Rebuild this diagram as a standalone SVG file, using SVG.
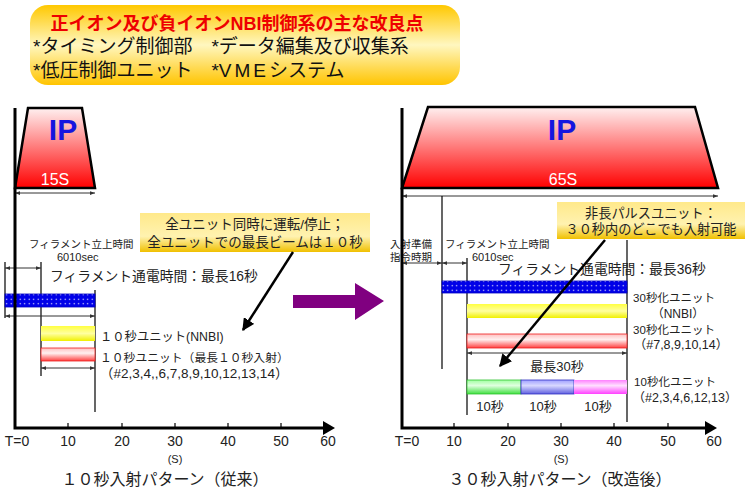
<svg xmlns="http://www.w3.org/2000/svg" width="750" height="492" viewBox="0 0 750 492">
<defs>
<style>
.t{font-family:"Liberation Sans","Noto Sans CJK JP",sans-serif;fill:#222}
.ax{stroke:#000;stroke-width:3;fill:none}
.ln{stroke:#000;stroke-width:1.2;fill:none}
.dim{stroke:#333;stroke-width:1;fill:none;marker-start:url(#da);marker-end:url(#da)}
.tick{stroke:#000;stroke-width:1.2}
.ctr{text-anchor:middle}
</style>
<marker id="da" viewBox="0 0 8 8" refX="8" refY="4" markerWidth="5" markerHeight="5" orient="auto-start-reverse"><path d="M0,1 L8,4 L0,7 z" fill="#333"/></marker>
<marker id="ah" viewBox="0 0 10 10" refX="9" refY="5" markerWidth="5" markerHeight="5" orient="auto"><path d="M0,0 L10,5 L0,10 z" fill="#000"/></marker>
<linearGradient id="gTitle" x1="0" y1="0" x2="0" y2="1"><stop offset="0" stop-color="#ffc800"/><stop offset="0.5" stop-color="#fff7c0"/><stop offset="1" stop-color="#ffc400"/></linearGradient>
<linearGradient id="gCall" x1="0" y1="0" x2="0" y2="1"><stop offset="0" stop-color="#ffe98a"/><stop offset="0.6" stop-color="#fff2b0"/><stop offset="1" stop-color="#f0c000"/></linearGradient>
<linearGradient id="gIP" x1="0" y1="0" x2="0" y2="1"><stop offset="0" stop-color="#fff0f0"/><stop offset="1" stop-color="#ff0000"/></linearGradient>
<linearGradient id="gY" x1="0" y1="0" x2="0" y2="1"><stop offset="0" stop-color="#ffff40"/><stop offset="0.5" stop-color="#ffffa0"/><stop offset="1" stop-color="#f0f000"/></linearGradient>
<linearGradient id="gR" x1="0" y1="0" x2="0" y2="1"><stop offset="0" stop-color="#ffc0c0"/><stop offset="0.4" stop-color="#fff0f0"/><stop offset="1" stop-color="#ff4040"/></linearGradient>
<linearGradient id="gG" x1="0" y1="0" x2="0" y2="1"><stop offset="0" stop-color="#a0ffa0"/><stop offset="0.4" stop-color="#e0ffe0"/><stop offset="1" stop-color="#40e040"/></linearGradient>
<linearGradient id="gB" x1="0" y1="0" x2="0" y2="1"><stop offset="0" stop-color="#a0a0ff"/><stop offset="0.4" stop-color="#d8d8ff"/><stop offset="1" stop-color="#6060e0"/></linearGradient>
<linearGradient id="gM" x1="0" y1="0" x2="0" y2="1"><stop offset="0" stop-color="#ff80ff"/><stop offset="0.4" stop-color="#ffe0ff"/><stop offset="1" stop-color="#ff40ff"/></linearGradient>
<pattern id="dots" width="4.5" height="4.5" patternUnits="userSpaceOnUse"><rect width="4.5" height="4.5" fill="#0000e8"/><circle cx="2.2" cy="2.2" r="0.7" fill="#fff"/></pattern>
</defs>
<rect width="750" height="492" fill="#fff"/>

<g id="title">
<rect x="30" y="5" width="430" height="80" rx="18" fill="url(#gTitle)"/>
<text x="237" y="30" class="ctr" style="font-family:'Liberation Sans','Noto Sans CJK JP',sans-serif;font-size:18px;font-weight:bold;fill:#ee0000">正イオン及び負イオンNBI制御系の主な改良点</text>
<text x="33" y="53" class="t" style="font-size:19px;fill:#111">*タイミング制御部　*データ編集及び収集系</text>
<text x="33" y="77" class="t" style="font-size:19px;fill:#111">*低圧制御ユニット　*V<tspan dx="3">M</tspan><tspan dx="3">E</tspan><tspan dx="3">システム</tspan></text>
</g>

<g id="left-chart">
<path d="M28,108 L82,108 L95,188 L15,188 Z" fill="url(#gIP)" stroke="#000" stroke-width="2.5"/>
<text x="63" y="140" class="ctr" style="font-family:'Liberation Sans',sans-serif;font-size:30px;font-weight:bold;fill:#1515e0">IP</text>
<text x="55" y="185" class="ctr" style="font-family:'Liberation Sans',sans-serif;font-size:16px;fill:#fff">15S</text>
<line x1="15" y1="193" x2="95" y2="193" class="dim"/>
<line x1="5" y1="262" x2="5" y2="318" class="ln"/>
<line x1="41" y1="262" x2="41" y2="376" class="ln"/>
<line x1="95" y1="290" x2="95" y2="412" class="ln"/>
<line x1="5" y1="268" x2="41" y2="268" class="dim"/>
<rect x="5" y="294" width="90" height="13" fill="url(#dots)" stroke="#0000c0" stroke-width="0.8"/>
<line x1="5" y1="316" x2="95" y2="316" class="dim"/>
<rect x="41" y="326" width="54" height="15" fill="url(#gY)"/>
<rect x="41" y="348" width="54" height="13" fill="url(#gR)" stroke="#ee2020" stroke-width="0.8"/>
<line x1="41" y1="368" x2="95" y2="368" class="dim"/>
<text x="29" y="248" class="t" style="font-size:10.5px">フィラメント立上時間</text>
<text x="57" y="261" class="t" style="font-size:11px">6010sec</text>
<text x="50" y="281" class="t" style="font-size:13.8px">フィラメント通電時間：最長16秒</text>
<text x="100" y="341" class="t" style="font-size:12.3px">１０秒ユニット(NNBI)</text>
<text x="100" y="362" class="t" style="font-size:11.8px">１０秒ユニット（最長１０秒入射）</text>
<text x="100" y="378" class="t" style="font-size:13.5px">（#2,3,4,,6,7,8,9,10,12,13,14）</text>
</g>

<g id="left-callout">
<rect x="140" y="213" width="230" height="39" fill="url(#gCall)"/>
<text x="255" y="229" class="t ctr" style="font-size:13.5px">全ユニット同時に運転/停止；</text>
<text x="255" y="247" class="t ctr" style="font-size:13.5px">全ユニットでの最長ビームは１０秒</text>
</g>

<g id="left-axes">
<polyline points="15,108 15,428 325,428" class="ax"/>
<path d="M323,421 L335,428 L323,435 Z" fill="#000"/>
<line x1="68" y1="423" x2="68" y2="428" class="tick"/>
<line x1="122" y1="423" x2="122" y2="428" class="tick"/>
<line x1="175" y1="423" x2="175" y2="428" class="tick"/>
<line x1="228" y1="423" x2="228" y2="428" class="tick"/>
<line x1="281" y1="423" x2="281" y2="428" class="tick"/>
<g style="font-family:'Liberation Sans',sans-serif;font-size:14px;fill:#222" text-anchor="middle">
<text x="17" y="446">T=0</text><text x="68" y="446">10</text><text x="122" y="446">20</text><text x="175" y="446">30</text><text x="228" y="446">40</text><text x="281" y="446">50</text><text x="328" y="446">60</text>
<text x="175" y="463" style="font-size:11px">(S)</text>
</g>
<text x="165" y="485" class="t ctr" style="font-size:16px">１０秒入射パターン（従来）</text>
</g>

<g id="right-chart">
<path d="M428,107 L695,107 L718,188 L402,188 Z" fill="url(#gIP)" stroke="#000" stroke-width="2.5"/>
<text x="562" y="140" class="ctr" style="font-family:'Liberation Sans',sans-serif;font-size:30px;font-weight:bold;fill:#1515e0">IP</text>
<text x="563" y="185" class="ctr" style="font-family:'Liberation Sans',sans-serif;font-size:16px;fill:#fff">65S</text>
<line x1="402" y1="196" x2="718" y2="196" class="dim"/>
<line x1="442" y1="196" x2="442" y2="369" class="ln"/>
<line x1="467" y1="258" x2="467" y2="415" class="ln"/>
<line x1="627" y1="240" x2="627" y2="422" class="ln"/>
<line x1="402" y1="263" x2="442" y2="263" class="dim"/>
<line x1="442" y1="263" x2="467" y2="263" class="dim"/>
<rect x="442" y="281" width="185" height="12" fill="url(#dots)" stroke="#0000c0" stroke-width="0.8"/>
<rect x="467" y="304" width="160" height="14" fill="url(#gY)"/>
<rect x="467" y="334" width="160" height="14" fill="url(#gR)" stroke="#ee2020" stroke-width="0.8"/>
<line x1="467" y1="353" x2="627" y2="353" class="dim"/>
<text x="557" y="371" class="t ctr" style="font-size:13px">最長30秒</text>
<rect x="467" y="380" width="54" height="14" fill="url(#gG)" stroke="#30c030" stroke-width="0.8"/>
<rect x="521" y="380" width="53" height="14" fill="url(#gB)" stroke="#3030c0" stroke-width="0.8"/>
<rect x="574" y="380" width="53" height="14" fill="url(#gM)"/>
<text x="490" y="411" class="t ctr" style="font-size:13px">10秒</text>
<text x="543" y="411" class="t ctr" style="font-size:13px">10秒</text>
<text x="598" y="411" class="t ctr" style="font-size:13px">10秒</text>
<text x="390" y="248" class="t" style="font-size:10.5px">入射準備</text>
<text x="390" y="261" class="t" style="font-size:10.5px">指令時期</text>
<text x="445" y="248" class="t" style="font-size:10.5px">フィラメント立上時間</text>
<text x="472" y="261" class="t" style="font-size:11px">6010sec</text>
<text x="498" y="274" class="t" style="font-size:13.8px">フィラメント通電時間：最長36秒</text>
<text x="674" y="302" class="t ctr" style="font-size:11.5px">30秒化ユニット</text>
<text x="678" y="318" class="t ctr" style="font-size:12px">（NNBI）</text>
<text x="674" y="334" class="t ctr" style="font-size:11.5px">30秒化ユニット</text>
<text x="681" y="349" class="t ctr" style="font-size:12.5px">（#7,8,9,10,14）</text>
<text x="675" y="386" class="t ctr" style="font-size:11.5px">10秒化ユニット</text>
<text x="685" y="402" class="t ctr" style="font-size:12.5px">（#2,3,4,6,12,13）</text>
</g>

<g id="right-callout">
<rect x="557" y="202" width="188" height="37" fill="url(#gCall)"/>
<text x="651" y="218" class="t ctr" style="font-size:13.2px">非長パルスユニット：</text>
<text x="651" y="234" class="t ctr" style="font-size:13.2px">３０秒内のどこでも入射可能</text>
</g>

<g id="right-axes">
<polyline points="402,108 402,428 707,428" class="ax"/>
<path d="M705,421 L717,428 L705,435 Z" fill="#000"/>
<line x1="454" y1="423" x2="454" y2="428" class="tick"/>
<line x1="508" y1="423" x2="508" y2="428" class="tick"/>
<line x1="561" y1="423" x2="561" y2="428" class="tick"/>
<line x1="614" y1="423" x2="614" y2="428" class="tick"/>
<line x1="668" y1="423" x2="668" y2="428" class="tick"/>
<g style="font-family:'Liberation Sans',sans-serif;font-size:14px;fill:#222" text-anchor="middle">
<text x="407" y="446">T=0</text><text x="454" y="446">10</text><text x="508" y="446">20</text><text x="561" y="446">30</text><text x="614" y="446">40</text><text x="668" y="446">50</text><text x="714" y="446">60</text>
<text x="561" y="463" style="font-size:11px">(S)</text>
</g>
<text x="560" y="485" class="t ctr" style="font-size:16px">３０秒入射パターン（改造後）</text>
</g>

<g id="connectors">
<line x1="293" y1="252" x2="243" y2="330" stroke="#000" stroke-width="2.5" marker-end="url(#ah)"/>
<line x1="605" y1="240" x2="500" y2="366" stroke="#000" stroke-width="2.5" marker-end="url(#ah)"/>
<path d="M293,295 L355,295 L355,283 L384,301 L355,320 L355,308 L293,308 Z" fill="#800080"/>
</g>
</svg>
